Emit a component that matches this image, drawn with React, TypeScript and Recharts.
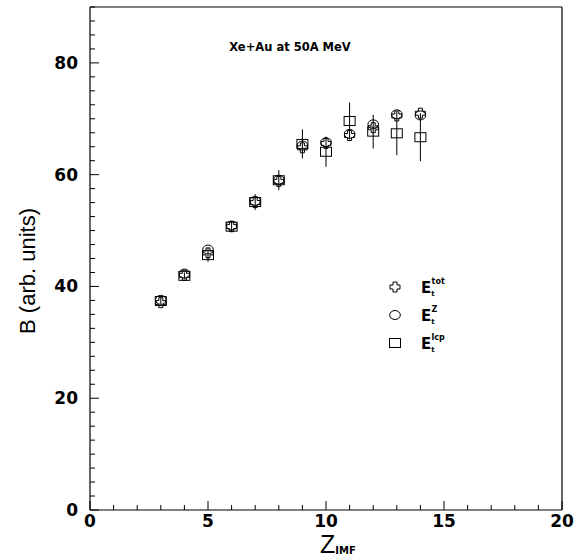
import { ScatterChart, Scatter, XAxis, YAxis, ErrorBar, Legend } from "recharts";

// Z of the intermediate mass fragment
const zImf = [3, 4, 5, 6, 7, 8, 9, 10, 11, 12, 13, 14];
// B from E_t^tot (crosses)
const bTot = [37.1, 42.0, 46.0, 50.7, 55.0, 58.8, 64.8, 65.6, 67.0, 68.4, 70.5, 71.0];
// B from E_t^Z (circles)
const bZ = [37.6, 42.3, 46.6, 50.9, 55.3, 59.1, 65.2, 65.8, 67.3, 69.0, 70.8, 70.6];
// B from E_t^lcp (squares) with errors
const bLcp = [37.4, 41.9, 45.6, 50.7, 55.1, 59.0, 65.5, 64.1, 69.6, 67.7, 67.4, 66.7];
const lcpErr = [0.5, 0.6, 1.2, 1.0, 1.4, 1.8, 2.6, 2.7, 3.3, 3.0, 3.9, 4.3];

const xTicks = [0, 1, 2, 3, 4, 5, 6, 7, 8, 9, 10, 11, 12, 13, 14, 15, 16, 17, 18, 19, 20];
const xLabels = [0, 5, 10, 15, 20];
const yTicks = [
  0, 2.5, 5, 7.5, 10, 12.5, 15, 17.5, 20, 22.5, 25, 27.5, 30, 32.5, 35, 37.5, 40, 42.5, 45,
  47.5, 50, 52.5, 55, 57.5, 60, 62.5, 65, 67.5, 70, 72.5, 75, 77.5, 80, 82.5, 85, 87.5, 90,
];
const yLabels = [0, 20, 40, 60, 80];

const totData = zImf.map((z, i) => ({ z, b: bTot[i] }));
const zData = zImf.map((z, i) => ({ z, b: bZ[i] }));
const lcpData = zImf.map((z, i) => ({ z, b: bLcp[i], err: lcpErr[i] }));

const TICK_FONT = "'DejaVu Sans', sans-serif";

function BottomTick({ x, y, payload }: any) {
  const major = xLabels.includes(payload.value);
  return (
    <g>
      <line x1={x} x2={x} y1={y} y2={y - (major ? 9 : 5)} stroke="#000" />
      {major && (
        <text x={x} y={y + 17} textAnchor="middle" fontFamily={TICK_FONT} fontWeight="bold" fontSize={17} fill="#000">
          {payload.value}
        </text>
      )}
    </g>
  );
}

function TopTick({ x, y, payload }: any) {
  const major = xLabels.includes(payload.value);
  return <line x1={x} x2={x} y1={y} y2={y + (major ? 9 : 5)} stroke="#000" />;
}

function LeftTick({ x, y, payload }: any) {
  const major = yLabels.includes(payload.value);
  return (
    <g>
      <line x1={x} x2={x + (major ? 9 : 5)} y1={y} y2={y} stroke="#000" />
      {major && (
        <text x={x - 12} y={y + 6} textAnchor="end" fontFamily={TICK_FONT} fontWeight="bold" fontSize={17} fill="#000">
          {payload.value}
        </text>
      )}
    </g>
  );
}

function RightTick({ x, y, payload }: any) {
  const major = yLabels.includes(payload.value);
  return <line x1={x} x2={x - (major ? 9 : 5)} y1={y} y2={y} stroke="#000" />;
}

function CrossShape({ cx, cy }: any) {
  const a = 2;
  const l = 5;
  const pts = [
    [cx - a, cy - l], [cx + a, cy - l], [cx + a, cy - a], [cx + l, cy - a], [cx + l, cy + a], [cx + a, cy + a],
    [cx + a, cy + l], [cx - a, cy + l], [cx - a, cy + a], [cx - l, cy + a], [cx - l, cy - a], [cx - a, cy - a],
  ].map((p) => p.join(",")).join(" ");
  return <polygon points={pts} fill="none" stroke="#000" strokeWidth={1} />;
}

function CircleShape({ cx, cy }: any) {
  return <ellipse cx={cx} cy={cy} rx={5.3} ry={4.5} fill="none" stroke="#000" strokeWidth={1} />;
}

function SquareShape({ cx, cy }: any) {
  return <rect x={cx - 5.5} y={cy - 4.5} width={11} height={9} fill="none" stroke="#000" strokeWidth={1} />;
}

const legendItems = [
  { key: "tot", sup: "tot", Shape: CrossShape },
  { key: "z", sup: "Z", Shape: CircleShape },
  { key: "lcp", sup: "lcp", Shape: SquareShape },
];

function LegendBox() {
  return (
    <svg width={90} height={90}>
      {legendItems.map((it, i) => (
        <g key={it.key}>
          <it.Shape cx={10} cy={11 + i * 28} />
          <text x={36} y={17 + i * 28} fontFamily={TICK_FONT} fontWeight="bold" fontSize={15} fill="#000">
            E
            <tspan fontSize={7} dy={3}>t</tspan>
            <tspan fontSize={8} dx={-3} dy={-12}>{it.sup}</tspan>
          </text>
        </g>
      ))}
    </svg>
  );
}

export default function App() {
  return (
    <div style={{ position: "absolute", left: 0, top: 0, width: 574, height: 558, background: "#fff" }}>
      <ScatterChart width={574} height={558} margin={{ top: 6, right: 11, bottom: 8, left: 30 }}>
        <XAxis
          xAxisId="b"
          type="number"
          dataKey="z"
          domain={[0, 20]}
          ticks={xTicks}
          interval={0}
          tickSize={0}
          tickMargin={0}
          tickLine={false}
          tick={<BottomTick />}
          height={40}
          axisLine={{ stroke: "#000", strokeWidth: 1.2 }}
        />
        <XAxis
          xAxisId="t"
          orientation="top"
          type="number"
          dataKey="z"
          domain={[0, 20]}
          ticks={xTicks}
          interval={0}
          tickSize={0}
          tickMargin={0}
          tickLine={false}
          tick={<TopTick />}
          height={1}
          axisLine={{ stroke: "#000", strokeWidth: 1.2 }}
        />
        <YAxis
          yAxisId="l"
          type="number"
          dataKey="b"
          domain={[0, 90]}
          ticks={yTicks}
          interval={0}
          tickSize={0}
          tickMargin={0}
          tickLine={false}
          tick={<LeftTick />}
          width={60}
          axisLine={{ stroke: "#000", strokeWidth: 1.2 }}
        />
        <YAxis
          yAxisId="r"
          orientation="right"
          type="number"
          dataKey="b"
          domain={[0, 90]}
          ticks={yTicks}
          interval={0}
          tickSize={0}
          tickMargin={0}
          tickLine={false}
          tick={<RightTick />}
          width={1}
          axisLine={{ stroke: "#000", strokeWidth: 1.2 }}
        />
        <Scatter name="lcp" data={lcpData} xAxisId="b" yAxisId="l" shape={<SquareShape />} isAnimationActive={false}>
          <ErrorBar dataKey="err" direction="y" width={0} stroke="#000" strokeWidth={1} isAnimationActive={false} />
        </Scatter>
        <Scatter name="z" data={zData} xAxisId="b" yAxisId="l" shape={<CircleShape />} isAnimationActive={false} />
        <Scatter name="tot" data={totData} xAxisId="b" yAxisId="l" shape={<CrossShape />} isAnimationActive={false} />
        <Legend
          layout="vertical"
          align="center"
          verticalAlign="middle"
          content={() => <LegendBox />}
          wrapperStyle={{ position: "absolute", left: 385, top: 276, width: 90, height: 90 }}
        />
      </ScatterChart>
      <svg
        width={574}
        height={558}
        style={{ position: "absolute", left: 0, top: 0, pointerEvents: "none" }}
      >
        <text x={290} y={51} textAnchor="middle" fontFamily={TICK_FONT} fontWeight="bold" fontSize={11.5} fill="#000">
          Xe+Au at 50A MeV
        </text>
        <text
          x={35}
          y={271}
          transform="rotate(-90 35 271)"
          textAnchor="middle"
          fontFamily="'Liberation Sans', Arial, sans-serif"
          fontSize={22}
          fill="#000"
        >
          B (arb. units)
        </text>
        <text x={320} y={553} fontFamily="'Liberation Sans', Arial, sans-serif" fontSize={25} fill="#000">
          Z
          <tspan fontFamily={TICK_FONT} fontWeight="bold" fontSize={10} dy={1}>IMF</tspan>
        </text>
      </svg>
    </div>
  );
}
